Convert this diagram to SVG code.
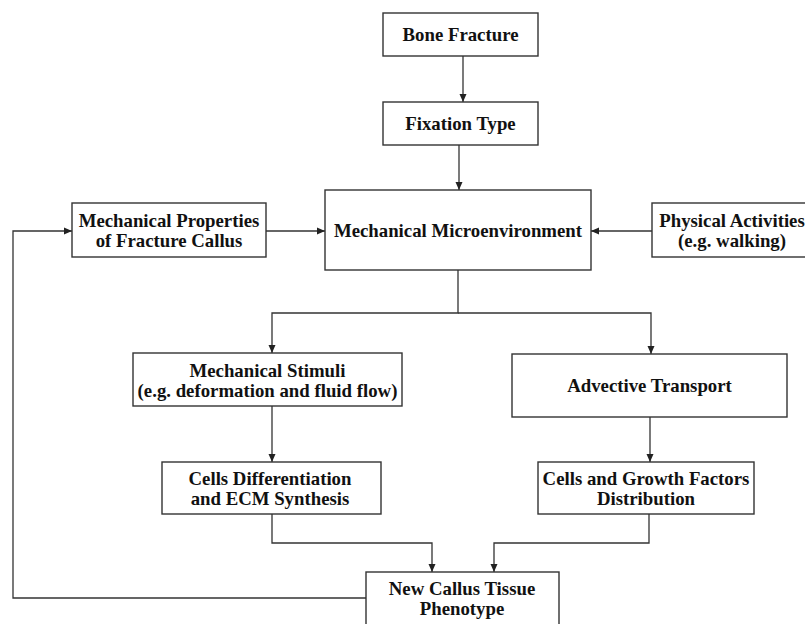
<svg xmlns="http://www.w3.org/2000/svg" width="805" height="624" viewBox="0 0 805 624">
<defs>
<marker id="arr" markerUnits="userSpaceOnUse" markerWidth="9" markerHeight="8" refX="8" refY="4" orient="auto">
<path d="M0,0.5 L8,4 L0,7.5 z" fill="#222"/>
</marker>
<style>
.box{fill:#fff;stroke:#333;stroke-width:1.4}
.t{font-family:"Liberation Serif","Times New Roman",serif;font-weight:bold;font-size:18.8px;fill:#111;text-anchor:middle}
.c{fill:none;stroke:#333;stroke-width:1.3}
</style>
</defs>
<rect width="805" height="624" fill="#fff"/>
<g id="connectors">
<path class="c" d="M463,56 V102" marker-end="url(#arr)"/>
<path class="c" d="M459,145 V190" marker-end="url(#arr)"/>
<path class="c" d="M266,231 H325" marker-end="url(#arr)"/>
<path class="c" d="M652,231 H591" marker-end="url(#arr)"/>
<path class="c" d="M458,270 V313 H272 V353" marker-end="url(#arr)"/>
<path class="c" d="M458,313 H651 V354" marker-end="url(#arr)"/>
<path class="c" d="M272,406 V462" marker-end="url(#arr)"/>
<path class="c" d="M650,417 V462" marker-end="url(#arr)"/>
<path class="c" d="M272,514 V543 H432 V572" marker-end="url(#arr)"/>
<path class="c" d="M649,514 V543 H494 V572" marker-end="url(#arr)"/>
<path class="c" d="M366,598 H13 V231 H72" marker-end="url(#arr)"/>
</g>
<g id="bone-fracture">
<rect class="box" x="383" y="13" width="155" height="43"/>
<text class="t" x="460.5" y="41">Bone Fracture</text>
</g>
<g id="fixation-type">
<rect class="box" x="383" y="102" width="155" height="43"/>
<text class="t" x="460.5" y="130">Fixation Type</text>
</g>
<g id="mech-micro">
<rect class="box" x="325" y="190" width="266" height="80"/>
<text class="t" x="458" y="237">Mechanical Microenvironment</text>
</g>
<g id="mech-props">
<rect class="box" x="72" y="203" width="194" height="54"/>
<text class="t" x="169" y="227">Mechanical Properties</text>
<text class="t" x="169" y="247">of Fracture Callus</text>
</g>
<g id="physical-activities">
<rect class="box" x="652" y="203" width="160" height="54"/>
<text class="t" x="732" y="227">Physical Activities</text>
<text class="t" x="732" y="247">(e.g. walking)</text>
</g>
<g id="mech-stimuli">
<rect class="box" x="133" y="353" width="269" height="53"/>
<text class="t" x="267.5" y="377">Mechanical Stimuli</text>
<text class="t" x="267.5" y="397">(e.g. deformation and fluid flow)</text>
</g>
<g id="advective">
<rect class="box" x="512" y="354" width="275" height="63"/>
<text class="t" x="649.5" y="392">Advective Transport</text>
</g>
<g id="cells-diff">
<rect class="box" x="162" y="462" width="219" height="52"/>
<text class="t" x="270" y="485">Cells Differentiation</text>
<text class="t" x="270" y="505">and ECM Synthesis</text>
</g>
<g id="cells-growth">
<rect class="box" x="538" y="462" width="216" height="52"/>
<text class="t" x="646" y="485">Cells and Growth Factors</text>
<text class="t" x="646" y="505">Distribution</text>
</g>
<g id="new-callus">
<rect class="box" x="366" y="572" width="193" height="60"/>
<text class="t" x="462" y="595">New Callus Tissue</text>
<text class="t" x="462" y="615">Phenotype</text>
</g>
</svg>
